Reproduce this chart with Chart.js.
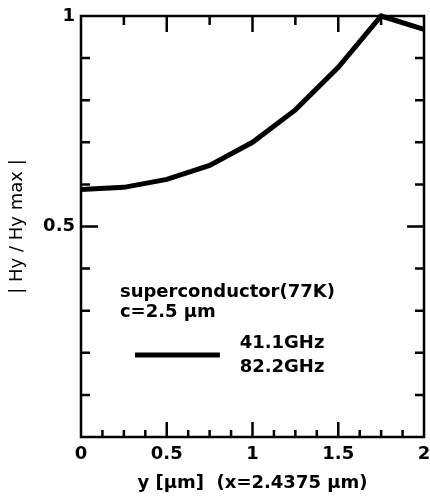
<!DOCTYPE html>
<html>
<head>
<meta charset="utf-8">
<script src="https://cdn.jsdelivr.net/npm/chart.js@4/dist/chart.umd.min.js"></script>
<style>
  html, body { margin: 0; padding: 0; background: #fff; }
  #c { display: block; }
</style>
</head>
<body>
<canvas id="c" width="430" height="500"></canvas>
<script>
// |Hy / Hy max| along y
var yPositions = [0, 0.25, 0.5, 0.75, 1, 1.25, 1.5, 1.75, 2];
var hyRatio = [0.588, 0.593, 0.612, 0.645, 0.70, 0.777, 0.878, 1.0, 0.968];

var xTickLabels = [0, 0.5, 1, 1.5, 2];
var yTickLabels = [0, 0.5, 1];

var legendNotes = ['superconductor(77K)', 'c=2.5 \u03bcm'];
var seriesNames = ['41.1GHz', '82.2GHz'];

(function () {
  "use strict";

  var FONT = '"DejaVu Sans", "Liberation Sans", Arial, sans-serif';
  var INK = '#000';

  // inward ticks on all four sides + box, drawn from the chart's own scales
  var framePlugin = {
    id: 'frame',
    afterDatasetsDraw: function (chart) {
      var ctx = chart.ctx, a = chart.chartArea;
      var xs = chart.scales.x, ys = chart.scales.y;
      var v, p, len;
      ctx.save();
      ctx.strokeStyle = INK;
      ctx.lineCap = 'butt';

      ctx.lineWidth = 2.5;
      ctx.strokeRect(a.left, a.top, a.right - a.left, a.bottom - a.top);

      ctx.beginPath();
      // bottom: every 0.125, longer at 0.5
      for (v = 0.125; v < 2; v += 0.125) {
        p = xs.getPixelForValue(v);
        len = (Math.abs(v * 2 - Math.round(v * 2)) < 1e-6) ? 15 : 7;
        ctx.moveTo(p, a.bottom);
        ctx.lineTo(p, a.bottom - len);
      }
      // top: every 0.25, longer at 0.5
      for (v = 0.25; v < 2; v += 0.25) {
        p = xs.getPixelForValue(v);
        len = (Math.abs(v * 2 - Math.round(v * 2)) < 1e-6) ? 16 : 9;
        ctx.moveTo(p, a.top);
        ctx.lineTo(p, a.top + len);
      }
      // left / right: every 0.1, longer at 0.5
      for (v = 1; v < 10; v += 1) {
        p = ys.getPixelForValue(v / 10);
        len = (v === 5) ? 17 : 9;
        ctx.moveTo(a.left, p);
        ctx.lineTo(a.left + len, p);
        ctx.moveTo(a.right, p);
        ctx.lineTo(a.right - len, p);
      }
      ctx.stroke();
      ctx.restore();
    }
  };

  // the annotation-style legend inside the plot
  var notePlugin = {
    id: 'notes',
    afterDraw: function (chart) {
      var ctx = chart.ctx;
      var xs = chart.scales.x, ys = chart.scales.y;
      var x0 = xs.getPixelForValue(0.227);
      ctx.save();
      ctx.fillStyle = INK;
      ctx.font = 'bold 18px ' + FONT;
      ctx.textBaseline = 'alphabetic';
      ctx.textAlign = 'left';
      ctx.fillText(legendNotes[0], x0, ys.getPixelForValue(0.333));
      ctx.fillText(legendNotes[1], x0, ys.getPixelForValue(0.285));

      var ly = ys.getPixelForValue(0.195);
      ctx.strokeStyle = INK;
      ctx.lineWidth = 5;
      ctx.beginPath();
      ctx.moveTo(xs.getPixelForValue(0.315), ly);
      ctx.lineTo(xs.getPixelForValue(0.81), ly);
      ctx.stroke();

      var tx = xs.getPixelForValue(0.925);
      ctx.fillText(seriesNames[0], tx, ys.getPixelForValue(0.211));
      ctx.fillText(seriesNames[1], tx, ys.getPixelForValue(0.155));
      ctx.restore();
    }
  };

  new Chart(document.getElementById('c'), {
    type: 'line',
    data: {
      labels: yPositions,
      datasets: [{
        label: seriesNames[0],
        data: yPositions.map(function (y, i) { return { x: y, y: hyRatio[i] }; }),
        borderColor: INK,
        borderWidth: 5,
        pointRadius: 0,
        tension: 0,
        fill: false,
        clip: false
      }]
    },
    options: {
      responsive: false,
      animation: false,
      layout: { padding: { top: 16, right: 6, left: 0, bottom: 0 } },
      plugins: {
        legend: { display: false },
        tooltip: { enabled: false }
      },
      scales: {
        x: {
          type: 'linear',
          min: 0,
          max: 2,
          afterFit: function (s) {
            s.height = 63;
            s.paddingLeft = 0;
            s.paddingRight = 0;
          },
          afterBuildTicks: function (s) {
            s.ticks = xTickLabels.map(function (v) { return { value: v }; });
          },
          grid: { display: false, drawTicks: false },
          border: { display: false },
          ticks: {
            color: INK,
            padding: 7,
            maxRotation: 0,
            font: { family: FONT, size: 18, weight: 'bold' },
            callback: function (v) { return String(v); }
          },
          title: {
            display: true,
            text: 'y [\u03bcm]  (x=2.4375 \u03bcm)',
            color: INK,
            font: { family: FONT, size: 18, weight: 'bold' },
            padding: { top: 0, bottom: 6 }
          }
        },
        y: {
          type: 'linear',
          min: 0,
          max: 1,
          afterFit: function (s) {
            s.width = 81;
            s.paddingTop = 0;
            s.paddingBottom = 0;
          },
          afterBuildTicks: function (s) {
            s.ticks = yTickLabels.map(function (v) { return { value: v }; });
          },
          grid: { display: false, drawTicks: false },
          border: { display: false },
          ticks: {
            color: INK,
            padding: 6,
            font: { family: FONT, size: 18, weight: 'bold' },
            // the shared origin "0" is carried by the x axis
            callback: function (v) { return v === 0 ? '' : String(v); }
          },
          title: {
            display: true,
            text: '| Hy / Hy max |',
            color: INK,
            font: { family: FONT, size: 18, weight: 'normal' },
            padding: { top: 7, bottom: 0 }
          }
        }
      }
    },
    plugins: [framePlugin, notePlugin]
  });
})();
</script>
</body>
</html>
